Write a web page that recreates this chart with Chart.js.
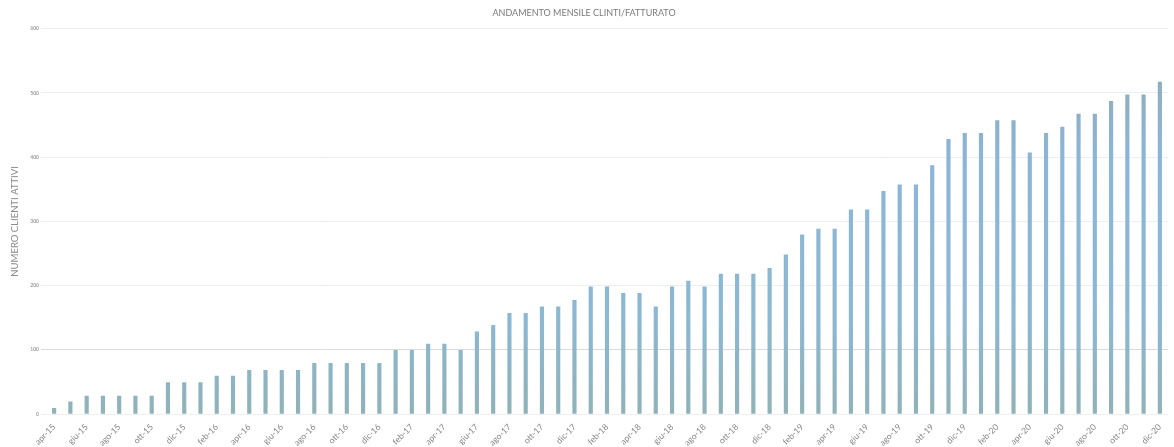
<!DOCTYPE html>
<html>
<head>
<meta charset="utf-8">
<script src="https://cdn.jsdelivr.net/npm/chart.js@4"></script>
<style>
  html, body { margin: 0; padding: 0; background: #ffffff; }
  #wrap { width: 1174px; height: 447px; position: relative; }
</style>
</head>
<body>
<div id="wrap"><canvas id="c"></canvas></div>
<script>
const chartTitle = 'ANDAMENTO MENSILE CLINTI/FATTURATO';
const yAxisTitle = 'NUMERO CLIENTI ATTIVI';

const months = [
  'apr-15','mag-15','giu-15','lug-15','ago-15','set-15','ott-15','nov-15','dic-15',
  'gen-16','feb-16','mar-16','apr-16','mag-16','giu-16','lug-16','ago-16','set-16','ott-16','nov-16','dic-16',
  'gen-17','feb-17','mar-17','apr-17','mag-17','giu-17','lug-17','ago-17','set-17','ott-17','nov-17','dic-17',
  'gen-18','feb-18','mar-18','apr-18','mag-18','giu-18','lug-18','ago-18','set-18','ott-18','nov-18','dic-18',
  'gen-19','feb-19','mar-19','apr-19','mag-19','giu-19','lug-19','ago-19','set-19','ott-19','nov-19','dic-19',
  'gen-20','feb-20','mar-20','apr-20','mag-20','giu-20','lug-20','ago-20','set-20','ott-20','nov-20','dic-20'
];

const clientiAttivi = [
  9, 19, 28, 28, 28, 28, 28, 49, 49,
  49, 59, 59, 68, 68, 68, 68, 79, 79, 79, 79, 79,
  99, 99, 109, 109, 99, 128, 138, 157, 157, 167, 167, 177,
  198, 198, 188, 188, 167, 198, 207, 198, 218, 218, 218, 227,
  248, 279, 288, 288, 318, 318, 347, 357, 357, 387, 428, 437,
  437, 457, 457, 407, 437, 447, 467, 467, 487, 497, 497, 517
];

const yTicks = [0, 100, 200, 300, 400, 500, 600];

const FONT = "Lato, 'Open Sans', sans-serif";

function barGradient(context) {
  const chart = context.chart;
  const area = chart.chartArea;
  if (!area) return '#8cb6d4';
  const g = chart.ctx.createLinearGradient(0, area.top, 0, area.bottom);
  g.addColorStop(0, '#93a8ae');
  g.addColorStop(0.35, '#8bb6d8');
  g.addColorStop(0.75, '#8cb8d2');
  g.addColorStop(1, '#90b2b8');
  return g;
}

new Chart(document.getElementById('c'), {
  type: 'bar',
  data: {
    labels: months,
    datasets: [{
      label: yAxisTitle,
      data: clientiAttivi,
      backgroundColor: barGradient,
      borderWidth: 0,
      barThickness: 3.5
    }]
  },
  options: {
    responsive: true,
    maintainAspectRatio: false,
    animation: false,
    layout: { padding: { left: 0, right: 6, top: 0, bottom: 0 } },
    plugins: {
      legend: { display: false },
      tooltip: { enabled: false },
      title: {
        display: true,
        text: chartTitle,
        color: '#7a7a7a',
        font: { family: FONT, size: 9, weight: 'normal' },
        padding: { top: 8, bottom: 10 }
      }
    },
    scales: {
      x: {
        offset: true,
        grid: { display: false },
        border: { display: false },
        ticks: {
          autoSkip: false,
          maxRotation: 45,
          minRotation: 45,
          padding: 0,
          color: '#858585',
          font: { family: FONT, size: 8.5 },
          callback: function(v, i) { return i % 2 === 0 ? this.getLabelForValue(v) : ''; }
        },
        afterFit: s => { s.height = 33; }
      },
      y: {
        min: 0,
        max: 600,
        afterBuildTicks: s => { s.ticks = yTicks.map(v => ({ value: v })); },
        grid: {
          color: c => (c.tick && c.tick.value === 100) ? '#dadada' : '#efefef',
          lineWidth: 1,
          tickLength: 5,
          drawTicks: true
        },
        border: { display: false },
        ticks: {
          padding: 2,
          color: '#9a9a9a',
          font: { family: FONT, size: 5, weight: 'bold' }
        },
        title: {
          display: true,
          text: yAxisTitle,
          color: '#8a8a8a',
          font: { family: FONT, size: 9.5 },
          padding: { top: 9, bottom: 0 }
        },
        afterFit: s => { s.width = 46; }
      }
    }
  }
});
</script>
</body>
</html>
